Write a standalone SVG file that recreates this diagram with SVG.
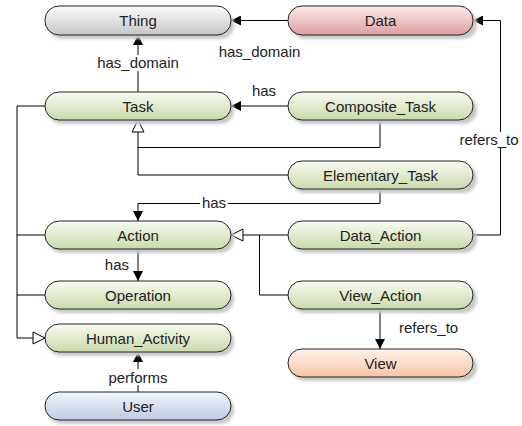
<svg xmlns="http://www.w3.org/2000/svg" width="522" height="426" viewBox="0 0 522 426">
<defs>
<linearGradient id="gGray" x1="0" y1="0" x2="0" y2="1"><stop offset="0" stop-color="#fbfbfb"/><stop offset="1" stop-color="#c6c6c6"/></linearGradient>
<linearGradient id="gRed" x1="0" y1="0" x2="0" y2="1"><stop offset="0" stop-color="#fcecec"/><stop offset="1" stop-color="#dd9f9f"/></linearGradient>
<linearGradient id="gGreen" x1="0" y1="0" x2="0" y2="1"><stop offset="0" stop-color="#f9fbf1"/><stop offset="1" stop-color="#cadaab"/></linearGradient>
<linearGradient id="gBlue" x1="0" y1="0" x2="0" y2="1"><stop offset="0" stop-color="#f2f5fb"/><stop offset="1" stop-color="#bccce4"/></linearGradient>
<linearGradient id="gOrange" x1="0" y1="0" x2="0" y2="1"><stop offset="0" stop-color="#fff2ea"/><stop offset="1" stop-color="#f7c5a5"/></linearGradient>
<filter id="blur" x="-10%" y="-30%" width="120%" height="160%"><feGaussianBlur stdDeviation="1.5"/></filter>
<marker id="arr" viewBox="0 0 10 10" refX="10" refY="5" markerWidth="10" markerHeight="10" markerUnits="userSpaceOnUse" orient="auto"><path d="M0,0 L10,5 L0,10 Z" fill="#000"/></marker>
<marker id="tri" viewBox="0 0 14 14" refX="13" refY="7" markerWidth="14" markerHeight="14" markerUnits="userSpaceOnUse" orient="auto"><path d="M1,1 L13,7 L1,13 Z" fill="#fff" stroke="#000" stroke-width="1"/></marker>
</defs>
<style>
.node rect.b{stroke:#222;stroke-width:1}
.shadow{fill:#c8c8c8;filter:url(#blur)}
text{font-family:"Liberation Sans",Arial,sans-serif;font-size:15px;fill:#222}
.node text{text-anchor:middle}
.c{fill:none;stroke:#000;stroke-width:1}
.lbl{fill:#fff}
</style>
<g id="connectors">
<path class="c" d="M288,20.5 H231" marker-end="url(#arr)"/>
<path class="c" d="M138,92 V35" marker-end="url(#arr)"/>
<path class="c" d="M288,106 H231" marker-end="url(#arr)"/>
<path class="c" d="M380,120 V147.5 H138 V120" marker-end="url(#tri)"/>
<path class="c" d="M288,175 H138 V147"/>
<path class="c" d="M380,189 V203.5 H138 V221" marker-end="url(#arr)"/>
<path class="c" d="M288,235 H231" marker-end="url(#tri)"/>
<path class="c" d="M288,295 H259.5 V235"/>
<path class="c" d="M473,235 H500.5 V20.5 H473" marker-end="url(#arr)"/>
<path class="c" d="M45,106 H17 V338 H45" marker-end="url(#tri)"/>
<path class="c" d="M45,235 H17"/>
<path class="c" d="M45,295 H17"/>
<path class="c" d="M138,249 V281" marker-end="url(#arr)"/>
<path class="c" d="M138,392 V352" marker-end="url(#arr)"/>
<path class="c" d="M380,309 V349" marker-end="url(#arr)"/>
<text x="259.5" y="57" text-anchor="middle">has_domain</text>
<rect class="lbl" x="92" y="55" width="92" height="16"/>
<text x="138" y="68" text-anchor="middle">has_domain</text>
<text x="264" y="96" text-anchor="middle">has</text>
<rect class="lbl" x="200" y="196" width="28" height="14"/>
<text x="214" y="208" text-anchor="middle">has</text>
<rect class="lbl" x="454" y="132" width="68" height="16"/>
<text x="489" y="145" text-anchor="middle">refers_to</text>
<text x="129" y="270" text-anchor="end">has</text>
<rect class="lbl" x="106" y="369" width="64" height="16"/>
<text x="138" y="383" text-anchor="middle">performs</text>
<text x="399" y="333">refers_to</text>
</g>
<g id="node-thing" class="node"><rect class="shadow" x="48" y="10" width="186" height="29" rx="14"/><rect class="b" x="45" y="6" width="186" height="29" rx="14" fill="url(#gGray)"/><text x="138" y="26">Thing</text></g>
<g id="node-data" class="node"><rect class="shadow" x="291" y="10" width="186" height="29" rx="14"/><rect class="b" x="288" y="6" width="185" height="29" rx="14" fill="url(#gRed)"/><text x="380.5" y="26">Data</text></g>
<g id="node-task" class="node"><rect class="shadow" x="48" y="96" width="186" height="28" rx="14"/><rect class="b" x="45" y="92" width="186" height="28" rx="14" fill="url(#gGreen)"/><text x="138" y="111.5">Task</text></g>
<g id="node-composite-task" class="node"><rect class="shadow" x="291" y="96" width="186" height="28" rx="14"/><rect class="b" x="288" y="92" width="185" height="28" rx="14" fill="url(#gGreen)"/><text x="380.5" y="111.5">Composite_Task</text></g>
<g id="node-elementary-task" class="node"><rect class="shadow" x="291" y="165" width="186" height="28" rx="14"/><rect class="b" x="288" y="161" width="185" height="28" rx="14" fill="url(#gGreen)"/><text x="380.5" y="180.5">Elementary_Task</text></g>
<g id="node-action" class="node"><rect class="shadow" x="48" y="225" width="186" height="28" rx="14"/><rect class="b" x="45" y="221" width="186" height="28" rx="14" fill="url(#gGreen)"/><text x="138" y="240.5">Action</text></g>
<g id="node-data-action" class="node"><rect class="shadow" x="291" y="225" width="186" height="28" rx="14"/><rect class="b" x="288" y="221" width="185" height="28" rx="14" fill="url(#gGreen)"/><text x="380.5" y="240.5">Data_Action</text></g>
<g id="node-operation" class="node"><rect class="shadow" x="48" y="285" width="186" height="28" rx="14"/><rect class="b" x="45" y="281" width="186" height="28" rx="14" fill="url(#gGreen)"/><text x="138" y="300.5">Operation</text></g>
<g id="node-view-action" class="node"><rect class="shadow" x="291" y="285" width="186" height="28" rx="14"/><rect class="b" x="288" y="281" width="185" height="28" rx="14" fill="url(#gGreen)"/><text x="380.5" y="300.5">View_Action</text></g>
<g id="node-human-activity" class="node"><rect class="shadow" x="48" y="328" width="186" height="28" rx="14"/><rect class="b" x="45" y="324" width="186" height="28" rx="14" fill="url(#gGreen)"/><text x="138" y="343.5">Human_Activity</text></g>
<g id="node-view" class="node"><rect class="shadow" x="291" y="353" width="186" height="28" rx="14"/><rect class="b" x="288" y="349" width="185" height="28" rx="14" fill="url(#gOrange)"/><text x="380.5" y="368.5">View</text></g>
<g id="node-user" class="node"><rect class="shadow" x="48" y="396" width="186" height="28" rx="14"/><rect class="b" x="45" y="392" width="186" height="28" rx="14" fill="url(#gBlue)"/><text x="138" y="411.5">User</text></g>
</svg>
